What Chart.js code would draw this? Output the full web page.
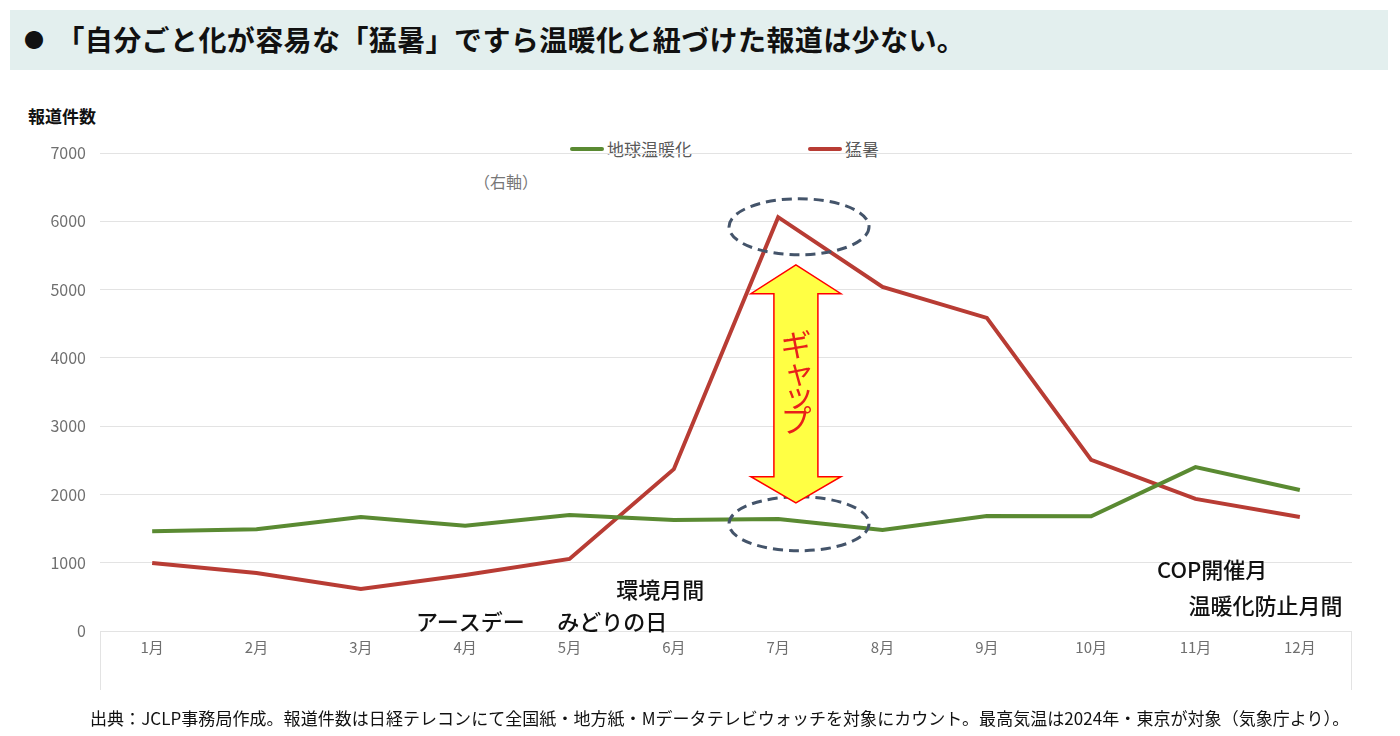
<!DOCTYPE html>
<html>
<head>
<meta charset="utf-8">
<script src="https://cdn.jsdelivr.net/npm/chart.js@4"></script>
<style>
 body{margin:0;background:#fff;font-family:"Noto Sans CJK JP",sans-serif;}
 #wrap{position:relative;width:1400px;height:736px;}
 #band{position:absolute;left:10px;top:10px;width:1378px;height:60px;background:#e3efee;}
 #title{position:absolute;left:24px;top:19px;font-size:28px;font-weight:700;color:#111;white-space:nowrap;letter-spacing:0.4px;line-height:40px;}
 #title b{font-size:20px;vertical-align:3px;margin-right:12px;}
 #ylab{position:absolute;left:28px;top:103px;font-size:17px;font-weight:700;color:#111;}
 .leg{position:absolute;top:136px;font-size:17px;color:#595959;white-space:nowrap;}
 .leg i{display:inline-block;width:34px;height:4px;border-radius:2px;vertical-align:middle;margin-right:3px;position:relative;top:-2px;}
 #right{position:absolute;left:474px;top:169px;font-size:16px;color:#777;}
 #foot{position:absolute;left:90px;top:705px;font-size:17px;color:#111;white-space:nowrap;letter-spacing:0.05px;}
 canvas{position:absolute;left:0;top:0;}
</style>
</head>
<body>
<div id="wrap">
 <div id="band"></div>
 <div id="title"><b>●</b>「自分ごと化が容易な「猛暑」ですら温暖化と紐づけた報道は少ない。</div>
 <div id="ylab">報道件数</div>
 <div class="leg" style="left:570px"><i style="background:#5a8a32"></i>地球温暖化</div>
 <div class="leg" style="left:808px"><i style="background:#b83c34"></i>猛暑</div>
 <div id="right">（右軸）</div>
 <canvas id="myChart" width="1400" height="736"></canvas>
 <div id="foot">出典：JCLP事務局作成。報道件数は日経テレコンにて全国紙・地方紙・Mデータテレビウォッチを対象にカウント。最高気温は2024年・東京が対象（気象庁より）。</div>
</div>
<script>
const months = ['1月','2月','3月','4月','5月','6月','7月','8月','9月','10月','11月','12月'];
const warming = [1460,1490,1670,1540,1700,1625,1640,1480,1685,1680,2400,2065];
const heat = [995,850,615,820,1055,2370,6060,5040,4585,2505,1935,1670];

// text labels: [text, x index (fractional), y value]
const notes = [
 ['環境月間', 4.87, 600],
 ['アースデー', 3.05, 130],
 ['みどりの日', 4.41, 130],
 ['COP開催月', 10.16, 905],
 ['温暖化防止月間', 10.67, 365]
];

const decor = {
 id:'decor',
 afterDraw(chart){
  const ctx = chart.ctx;
  const x = chart.scales.x, y = chart.scales.y;
  const a = chart.chartArea;
  ctx.save();
  // axis box
  ctx.strokeStyle = '#e3e3e3';
  ctx.lineWidth = 1;
  ctx.beginPath();
  ctx.moveTo(a.left+0.5, a.bottom); ctx.lineTo(a.left+0.5, a.bottom+59);
  ctx.moveTo(a.right-0.5, a.bottom); ctx.lineTo(a.right-0.5, a.bottom+59);
  ctx.stroke();

  // ellipses
  const cx = x.getPixelForValue(6.2);
  ctx.strokeStyle = '#44546a';
  ctx.lineWidth = 3;
  ctx.setLineDash([10,6]);
  ctx.beginPath();
  ctx.ellipse(cx, y.getPixelForValue(5920), 70, 28, 0, 0, Math.PI*2);
  ctx.stroke();
  ctx.beginPath();
  ctx.ellipse(cx, y.getPixelForValue(1570), 70, 27, 0, 0, Math.PI*2);
  ctx.stroke();
  ctx.setLineDash([]);

  // double arrow
  const ax = x.getPixelForValue(6.17);
  const t = y.getPixelForValue(5360), tb = y.getPixelForValue(4940);
  const bb = y.getPixelForValue(2260), b = y.getPixelForValue(1875);
  ctx.beginPath();
  ctx.moveTo(ax, t);
  ctx.lineTo(ax+45, tb); ctx.lineTo(ax+22, tb);
  ctx.lineTo(ax+22, bb); ctx.lineTo(ax+45, bb);
  ctx.lineTo(ax, b);
  ctx.lineTo(ax-45, bb); ctx.lineTo(ax-22, bb);
  ctx.lineTo(ax-22, tb); ctx.lineTo(ax-45, tb);
  ctx.closePath();
  ctx.fillStyle = '#ffff44';
  ctx.fill();
  ctx.strokeStyle = '#ff0000';
  ctx.lineWidth = 1.5;
  ctx.stroke();

  // vertical text
  ctx.fillStyle = '#e8201a';
  ctx.font = '31px "Noto Sans CJK JP"';
  ctx.textAlign = 'center';
  ctx.textBaseline = 'middle';
  const g = ['ギ','ャ','ッ','プ'];
  const gy = [4200, 3810, 3470, 3080];
  g.forEach((c,i)=>{
   const dx = (c==='ャ'||c==='ッ') ? 3 : 0;
   ctx.fillText(c, ax+dx, y.getPixelForValue(gy[i]));
  });

  // notes
  ctx.fillStyle = '#111';
  ctx.font = '500 22px "Noto Sans CJK JP"';
  notes.forEach(n=>{
   ctx.fillText(n[0], x.getPixelForValue(n[1]), y.getPixelForValue(n[2]));
  });
  ctx.restore();
 }
};

const ctx = document.getElementById('myChart').getContext('2d');
const myChart = new Chart(ctx, {
 type:'line',
 data:{
  labels: months,
  datasets:[{
   label:'地球温暖化',
   data: warming,
   borderColor:'#5a8a32',
   backgroundColor:'#5a8a32',
   borderWidth:4,
   pointRadius:0,
   tension:0
  },{
   label:'猛暑',
   data: heat,
   borderColor:'#b83c34',
   backgroundColor:'#b83c34',
   borderWidth:4,
   pointRadius:0,
   tension:0
  }]
 },
 options:{
  responsive:false,
  animation:false,
  layout:{padding:{left:0,top:153,right:48,bottom:0}},
  plugins:{legend:{display:false},tooltip:{enabled:false}},
  scales:{
   x:{
    offset:true,
    grid:{display:false,drawTicks:false},
    border:{display:false},
    ticks:{color:'#6f6f6f',font:{size:15,family:'"Noto Sans CJK JP"'},padding:7},
    afterFit(s){ s.height = 105; }
   },
   y:{
    min:0,max:7000,
    grid:{color:'#e3e3e3',drawTicks:false},
    border:{display:false},
    ticks:{stepSize:1000,color:'#6f6f6f',font:{size:16,family:'"Noto Sans CJK JP"'},padding:14,
     callback:(v)=>String(v)},
    afterFit(s){ s.width = 100; }
   }
  }
 },
 plugins:[decor]
});
</script>
</body>
</html>
